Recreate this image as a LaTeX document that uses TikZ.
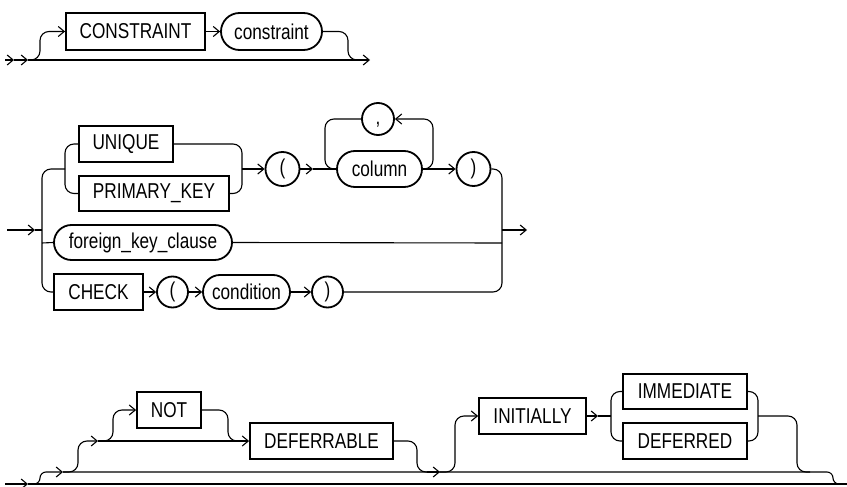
\documentclass[tikz,border=0pt]{standalone}
\usepackage{fontspec}
\setmainfont{Liberation Sans}[FakeStretch=0.8]
\usetikzlibrary{arrows.meta,shapes.misc}
\begin{document}
\begin{tikzpicture}[x=1pt,y=-1pt,
  rail/.style={line width=1.1pt, rounded corners=9pt},
  srail/.style={line width=1.1pt, rounded corners=6pt},
  arr/.style={-{Straight Barb[length=6pt,width=10pt,line width=1.1pt]}},
  lbl/.style={font=\fontsize{21.5}{24}\selectfont, inner sep=0pt, line width=1.8pt, draw},
  kw/.style={lbl, rectangle},
  nt/.style={lbl, rounded rectangle},
  ci/.style={lbl, circle, text height=15.5pt, text depth=4.5pt}]
\useasboundingbox (0,0) rectangle (847,487);

% ---------- section 1 ----------
\node[kw, minimum width=139pt, minimum height=37pt] (cons) at (135.5,31.5) {CONSTRAINT};
\node[nt, minimum width=101pt, minimum height=37pt] (consn) at (271.5,31.5) {constraint};
\coordinate (a0) at (5,60);
\coordinate (a1) at (14,60);
\coordinate (a2) at (28,60);
\coordinate (a3) at (370,60);
\draw[rail,arr] (a0) -- (a1);
\draw[rail,arr] (a1) -- (a2);
\draw[rail,arr] (a2) -- (a3);
\draw[rail,arr] (a2) -- (40,60) -- (40,31.5) -- (cons.west);
\draw[rail,arr] (cons.east) -- (consn.west);
\draw[rail] (consn.east) -- (348,31.5) -- (348,60) -- (358,60);

% ---------- section 2 ----------
\node[kw, minimum width=94pt, minimum height=36pt] (uniq) at (126,144) {UNIQUE};
\node[kw, minimum width=150pt, minimum height=35pt] (pk) at (154,193.5) {PRIMARY\_KEY};
\node[ci, minimum size=34pt] (lp1) at (282.5,169) {(};
\node[nt, minimum width=85pt, minimum height=36pt] (col) at (379.5,169) {column};
\node[ci, minimum size=32pt] (comma) at (378,119) {,};
\node[ci, minimum size=34pt] (rp1) at (473.5,169) {)};
\node[nt, minimum width=178pt, minimum height=35pt] (fk) at (143,242.5) {foreign\_key\_clause};
\node[kw, minimum width=89pt, minimum height=36pt] (check) at (98.5,292) {CHECK};
\node[ci, minimum size=31pt] (lp2) at (172.5,292) {(};
\node[nt, minimum width=87pt, minimum height=34pt] (cond) at (246.5,292) {condition};
\node[ci, minimum size=31pt] (rp2) at (327.5,292) {)};

\coordinate (b0) at (7,230);
\coordinate (b1) at (35,230);
\draw[rail,arr] (b0) -- (b1);
\draw[rail] (b1) -- (42,230);
\draw[rail] (65,169) -- (42,169) -- (42,292) -- (check.west);
\draw[rail] (42,243) -- (fk.west);
\draw[rail] (uniq.west) -- (65,144) -- (65,193.5) -- (pk.west);
\draw[rail] (uniq.east) -- (242,144) -- (242,193.5) -- (pk.east);
\draw[rail,arr] (242,169) -- (lp1.west);
\draw[rail,arr] (lp1.east) -- (313,169);
\draw[rail] (313,169) -- (col.west);
\draw[rail,arr] (col.east) -- (433,169) -- (433,119) -- (comma.east);
\draw[rail] (comma.west) -- (325,119) -- (325,169) -- (337,169);
\draw[rail,arr] (col.east) -- (rp1.west);
\draw[rail] (rp1.east) -- (502,169) -- (502,292) -- (rp2.east);
\draw[rail] (fk.east) -- (502,243);
\coordinate (b2) at (527,230);
\draw[rail,arr] (502,230) -- (b2);
\draw[rail,arr] (check.east) -- (lp2.west);
\draw[rail,arr] (lp2.east) -- (cond.west);
\draw[rail,arr] (cond.east) -- (rp2.west);

% ---------- section 3 ----------
\node[kw, minimum width=64pt, minimum height=36pt] (not) at (169,410) {NOT};
\node[kw, minimum width=143pt, minimum height=36pt] (def) at (321.5,441) {DEFERRABLE};
\node[kw, minimum width=107pt, minimum height=36pt] (init) at (532.5,416) {INITIALLY};
\node[kw, minimum width=124pt, minimum height=35pt] (imm) at (685,391.5) {IMMEDIATE};
\node[kw, minimum width=124pt, minimum height=36pt] (dfd) at (685,441) {DEFERRED};

\coordinate (c0) at (5,484);
\coordinate (c1) at (28,484);
\coordinate (c2) at (847,484);
\draw[rail,arr] (c0) -- (c1);
\draw[rail] (c1) -- (c2);
\draw[srail,arr] (c1) -- (40,484) -- (40,472) -- (63,472);
\draw[srail] (63,472) -- (833,472) -- (833,484) -- (845,484);
\draw[rail,arr] (63,472) -- (78,472) -- (78,441) -- (98,441);
\draw[rail,arr] (98,441) -- (def.west);
\draw[rail,arr] (98,441) -- (113,441) -- (113,410) -- (not.west);
\draw[rail] (not.east) -- (228,410) -- (228,441) -- (240,441);
\draw[rail] (def.east) -- (417,441) -- (417,472) -- (427,472);
\draw[rail,arr] (427,472) -- (440,472);
\draw[rail,arr] (440,472) -- (455,472) -- (455,416) -- (init.west);
\draw[rail,arr] (init.east) -- (598,416);
\draw[rail] (598,416) -- (611,416);
\draw[rail] (imm.west) -- (611,391.5) -- (611,441) -- (dfd.west);
\draw[rail] (imm.east) -- (758,391.5) -- (758,441) -- (dfd.east);
\draw[rail] (758,416) -- (797,416) -- (797,472) -- (810,472);
\end{tikzpicture}
\end{document}
